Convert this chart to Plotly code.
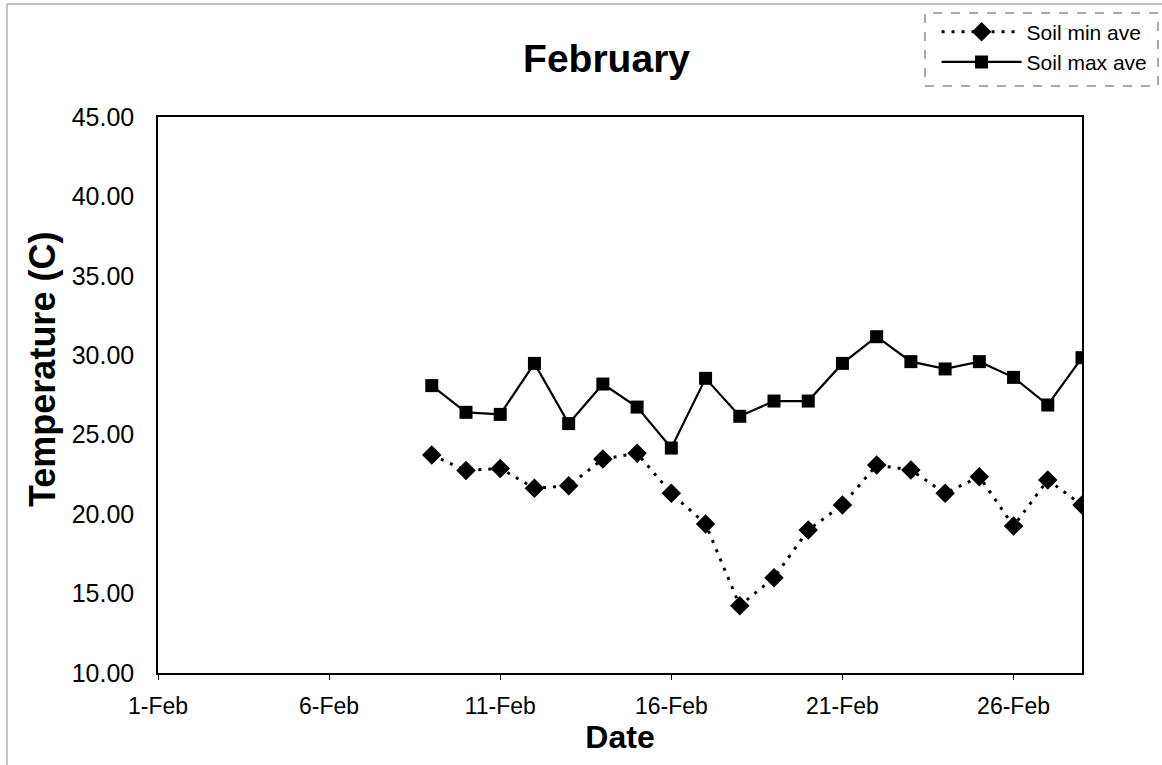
import plotly.graph_objects as go

# Daily soil temperature averages, 9-28 February
dates = [f"2005-02-{d:02d}" for d in range(9, 29)]
soil_min_ave = [23.72, 22.74, 22.88, 21.63, 21.79, 23.47, 23.83, 21.31, 19.38, 14.24,
                16.00, 19.00, 20.58, 23.09, 22.78, 21.31, 22.36, 19.25, 22.15, 20.58]
soil_max_ave = [28.09, 26.41, 26.28, 29.49, 25.70, 28.19, 26.74, 24.16, 28.55, 26.16,
                27.12, 27.12, 29.49, 31.17, 29.60, 29.14, 29.60, 28.61, 26.87, 29.85]

x_tick_vals = ["2005-02-01", "2005-02-06", "2005-02-11", "2005-02-16", "2005-02-21", "2005-02-26"]
x_tick_text = ["1-Feb", "6-Feb", "11-Feb", "16-Feb", "21-Feb", "26-Feb"]
y_tick_vals = [10, 15, 20, 25, 30, 35, 40, 45]

FONT = "Liberation Sans, Arial, sans-serif"
W, H = 1162, 765
L, R, T, B = 158, 80, 117, 92
PW, PH = W - L - R, H - T - B


def px_to_paper(x, y):
    return (x - L) / PW, (H - B - y) / PH


fig = go.Figure()
fig.add_trace(go.Scatter(
    x=dates, y=soil_min_ave, name="Soil min ave", mode="lines+markers",
    line=dict(color="black", width=3, dash="3px,7px"),
    marker=dict(symbol="diamond", size=15, color="black"),
))
fig.add_trace(go.Scatter(
    x=dates, y=soil_max_ave, name="Soil max ave", mode="lines+markers",
    line=dict(color="black", width=2.2),
    marker=dict(symbol="square", size=13, color="black"),
))

fig.update_layout(
    width=W, height=H,
    margin=dict(l=L, r=R, t=T, b=B, autoexpand=False),
    paper_bgcolor="white", plot_bgcolor="white",
    font=dict(family=FONT, color="black"),
    title=dict(text="<b>February</b>", font=dict(size=39, family=FONT),
               x=0.522, xanchor="center", y=0.924, yanchor="middle"),
    legend=dict(
        xref="container", yref="container", x=0.806, y=0.985,
        xanchor="left", yanchor="top",
        font=dict(size=21, family=FONT),
        bgcolor="rgba(0,0,0,0)", borderwidth=0,
        itemwidth=80, tracegroupgap=0,
    ),
    showlegend=True,
)

fig.update_xaxes(
    type="date", range=["2005-02-01", "2005-02-28"],
    tickvals=x_tick_vals, ticktext=x_tick_text,
    tickfont=dict(size=23, family=FONT),
    ticks="outside", ticklen=5, tickcolor="black", ticklabelstandoff=7,
    showline=True, linecolor="black", linewidth=1.5, mirror=True,
    showgrid=False, zeroline=False,
    title=dict(text="<b>Date</b>", font=dict(size=32, family=FONT), standoff=6),
)
fig.update_yaxes(
    range=[10, 45], tickvals=y_tick_vals, tickformat=".2f",
    tickfont=dict(size=25, family=FONT),
    ticks="", ticklabelstandoff=17,
    showline=True, linecolor="black", linewidth=1.5, mirror=True,
    showgrid=False, zeroline=False,
)

# vertical axis title, placed slightly above the plot's mid-height
fig.add_annotation(
    text="<b>Temperature (C)</b>", textangle=-90,
    xref="paper", yref="paper",
    x=px_to_paper(42, 0)[0], y=px_to_paper(0, 370)[1],
    xanchor="center", yanchor="middle", showarrow=False,
    font=dict(size=36, family=FONT, color="black"),
)

# thin outer chart border (left and top edges fall inside the page)
x0, y0 = px_to_paper(7, 768)
x1, y1 = px_to_paper(1166, 4)
fig.add_shape(type="rect", xref="paper", yref="paper", x0=x0, x1=x1, y0=y0, y1=y1,
              line=dict(color="#888888", width=1), layer="below")

# dashed frame around the legend
x0, y0 = px_to_paper(925, 86)
x1, y1 = px_to_paper(1158, 13)
fig.add_shape(type="rect", xref="paper", yref="paper", x0=x0, x1=x1, y0=y0, y1=y1,
              line=dict(color="#555555", width=1, dash="dash"))

fig.write_html("out.html")
